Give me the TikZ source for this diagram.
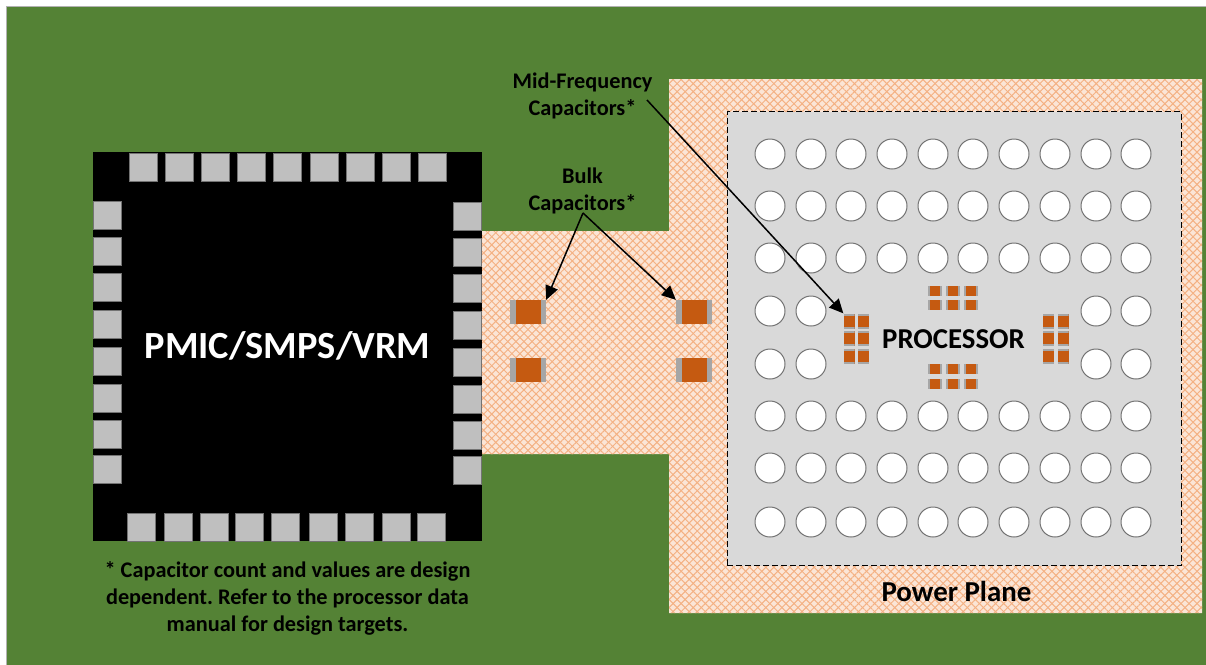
\documentclass[tikz,border=0pt]{standalone}
\usepackage{fontspec}
\setmainfont{Carlito}
\usetikzlibrary{arrows.meta,patterns.meta}
\definecolor{Board}{HTML}{548235}
\definecolor{PlaneBack}{HTML}{FBE5D6}
\definecolor{PlaneLine}{HTML}{F4B183}
\definecolor{CapBody}{HTML}{C55A11}
\definecolor{CapEnd}{HTML}{A6A6A6}
\tikzstyle{Pad}= [rectangle,draw=black!55,fill=black!25,line width=0.8pt,minimum size=28pt,inner sep=0pt]
\tikzstyle{Bohrung}= [circle,draw=black!55,fill=white,line width=1pt,minimum size=30pt,inner sep=0pt]
\tikzstyle{BulkCap}= [rectangle,fill=CapBody,minimum width=36pt,minimum height=24pt,inner sep=0pt,
	path picture={\fill[CapEnd] (path picture bounding box.north west) rectangle ([xshift=5.5pt]path picture bounding box.south west);
		\fill[CapEnd] (path picture bounding box.north east) rectangle ([xshift=-5.5pt]path picture bounding box.south east);}]
\tikzstyle{CapH}= [rectangle,fill=CapBody,minimum width=14pt,minimum height=10pt,inner sep=0pt,
	path picture={\fill[CapEnd] (path picture bounding box.north west) rectangle ([xshift=2pt]path picture bounding box.south west);
		\fill[CapEnd] (path picture bounding box.north east) rectangle ([xshift=-2pt]path picture bounding box.south east);}]
\tikzstyle{CapV}= [rectangle,fill=CapBody,minimum width=11pt,minimum height=15pt,inner sep=0pt,
	path picture={\fill[CapEnd] (path picture bounding box.north west) rectangle ([yshift=-2pt]path picture bounding box.north east);
		\fill[CapEnd] (path picture bounding box.south west) rectangle ([yshift=2pt]path picture bounding box.south east);}]
\tikzstyle{Label}= [align=center,inner sep=0pt,font=\fontsize{22.3}{27}\selectfont\bfseries\frenchspacing]
\tikzstyle{Leader}= [line width=1.5pt,-{Triangle[length=14pt,width=13pt]}]
\begin{document}
\begin{tikzpicture}[x=1pt,y=-1pt]

		\useasboundingbox (0,0) rectangle (1206,664);
		\fill[white] (0,0) rectangle (1206,664);
		\filldraw[fill=Board,draw=black!30,line width=0.5pt] (6.5,6) rectangle (1207,665);

		\fill[PlaneBack] (669,79) -- (1202,79) -- (1202,613) -- (669,613) -- (669,454)
		-- (482,454) -- (482,231) -- (669,231) -- cycle;
		\fill[pattern={Lines[angle=45,distance=5.7pt,line width=1pt]},pattern color=PlaneLine]
		(669,79) -- (1202,79) -- (1202,613) -- (669,613) -- (669,454)
		-- (482,454) -- (482,231) -- (669,231) -- cycle;
		\fill[pattern={Lines[angle=-45,distance=5.7pt,line width=1pt]},pattern color=PlaneLine]
		(669,79) -- (1202,79) -- (1202,613) -- (669,613) -- (669,454)
		-- (482,454) -- (482,231) -- (669,231) -- cycle;

		\node [rectangle,fill=black,minimum size=389pt,inner sep=0pt] (pmic) at (287.5,346.5)
		{\raisebox{3.5pt}{\fontsize{38.4}{40}\selectfont\bfseries\textcolor{white}{PMIC/SMPS/VRM}}};

		\foreach \x [count=\i] in {143,179,215,251,287,324,360,396,432}
		\node [Pad] (t\i) at (\x,167) {};
		\foreach \x [count=\i] in {141.5,178.5,214.5,249.5,285.5,323,359,396,431.5}
		\node [Pad] (b\i) at (\x,527) {};
		\foreach \y [count=\i] in {215.5,251.5,287.5,324,361,398,434,469}
		\node [Pad] (l\i) at (107,\y) {};
		\foreach \y [count=\i] in {216.5,252.5,288.5,325,362,399,435,470}
		\node [Pad] (r\i) at (467.5,\y) {};

		\node [rectangle,fill=black!15,draw=black,dash pattern=on 6pt off 3pt,line width=0.8pt,minimum size=454pt,inner sep=0pt]
		(cpu) at (954,338.5) {};

		\foreach \y [count=\j] in {154,206,258,311,364,416,468,522}
		\foreach \x [count=\i] in {770,811,851,892,933,973,1014,1055,1096,1136}
		{
			\pgfmathparse{(\j==4 || \j==5) && (\i>2 && \i<9) ? 1 : 0}
			\ifnum\pgfmathresult=0
			\node [Bohrung] (v\j\i) at (\x,\y) {};
			\fi
		}

		\node [BulkCap] (c1) at (528,312) {};
		\node [BulkCap] (c2) at (528,370) {};
		\node [BulkCap] (c3) at (694,312) {};
		\node [BulkCap] (c4) at (694,370) {};

		\foreach \x [count=\i] in {935,953,971}
		{
			\node [CapH] (ct\i) at (\x,291) {};
			\node [CapH] (cu\i) at (\x,305) {};
			\node [CapH] (cv\i) at (\x,369) {};
			\node [CapH] (cw\i) at (\x,384) {};
		}
		\foreach \y [count=\i] in {321,338,356.5}
		{
			\node [CapV] (ca\i) at (849,\y) {};
			\node [CapV] (cb\i) at (863.5,\y) {};
			\node [CapV] (cc\i) at (1048.5,\y) {};
			\node [CapV] (cd\i) at (1063,\y) {};
		}

		\node [Label,font=\fontsize{28.8}{30}\selectfont\bfseries] (proc) at (953.5,339) {PROCESSOR};
		\node [Label,font=\fontsize{28.9}{30}\selectfont\bfseries] (plane) at (956.5,591.5) {Power Plane};
		\node [Label] (mid) at (582.5,96) {Mid-Frequency\\Capacitors*};
		\node [Label] (bulk) at (582.5,190.5) {Bulk\\Capacitors*};
		\node [Label] (note) at (287.5,598) {* Capacitor count and values are design\\dependent. Refer to the processor data\\manual for design targets.};

		\coordinate (midend) at (647,100);
		\coordinate (bulkend) at (583,213);

		\draw[Leader]
		(midend) -- (ca1.north west);
		\draw[Leader]
		(bulkend) -- (c1.north east);
		\draw[Leader]
		(bulkend) -- (c3.north west);

	\end{tikzpicture}
\end{document}
